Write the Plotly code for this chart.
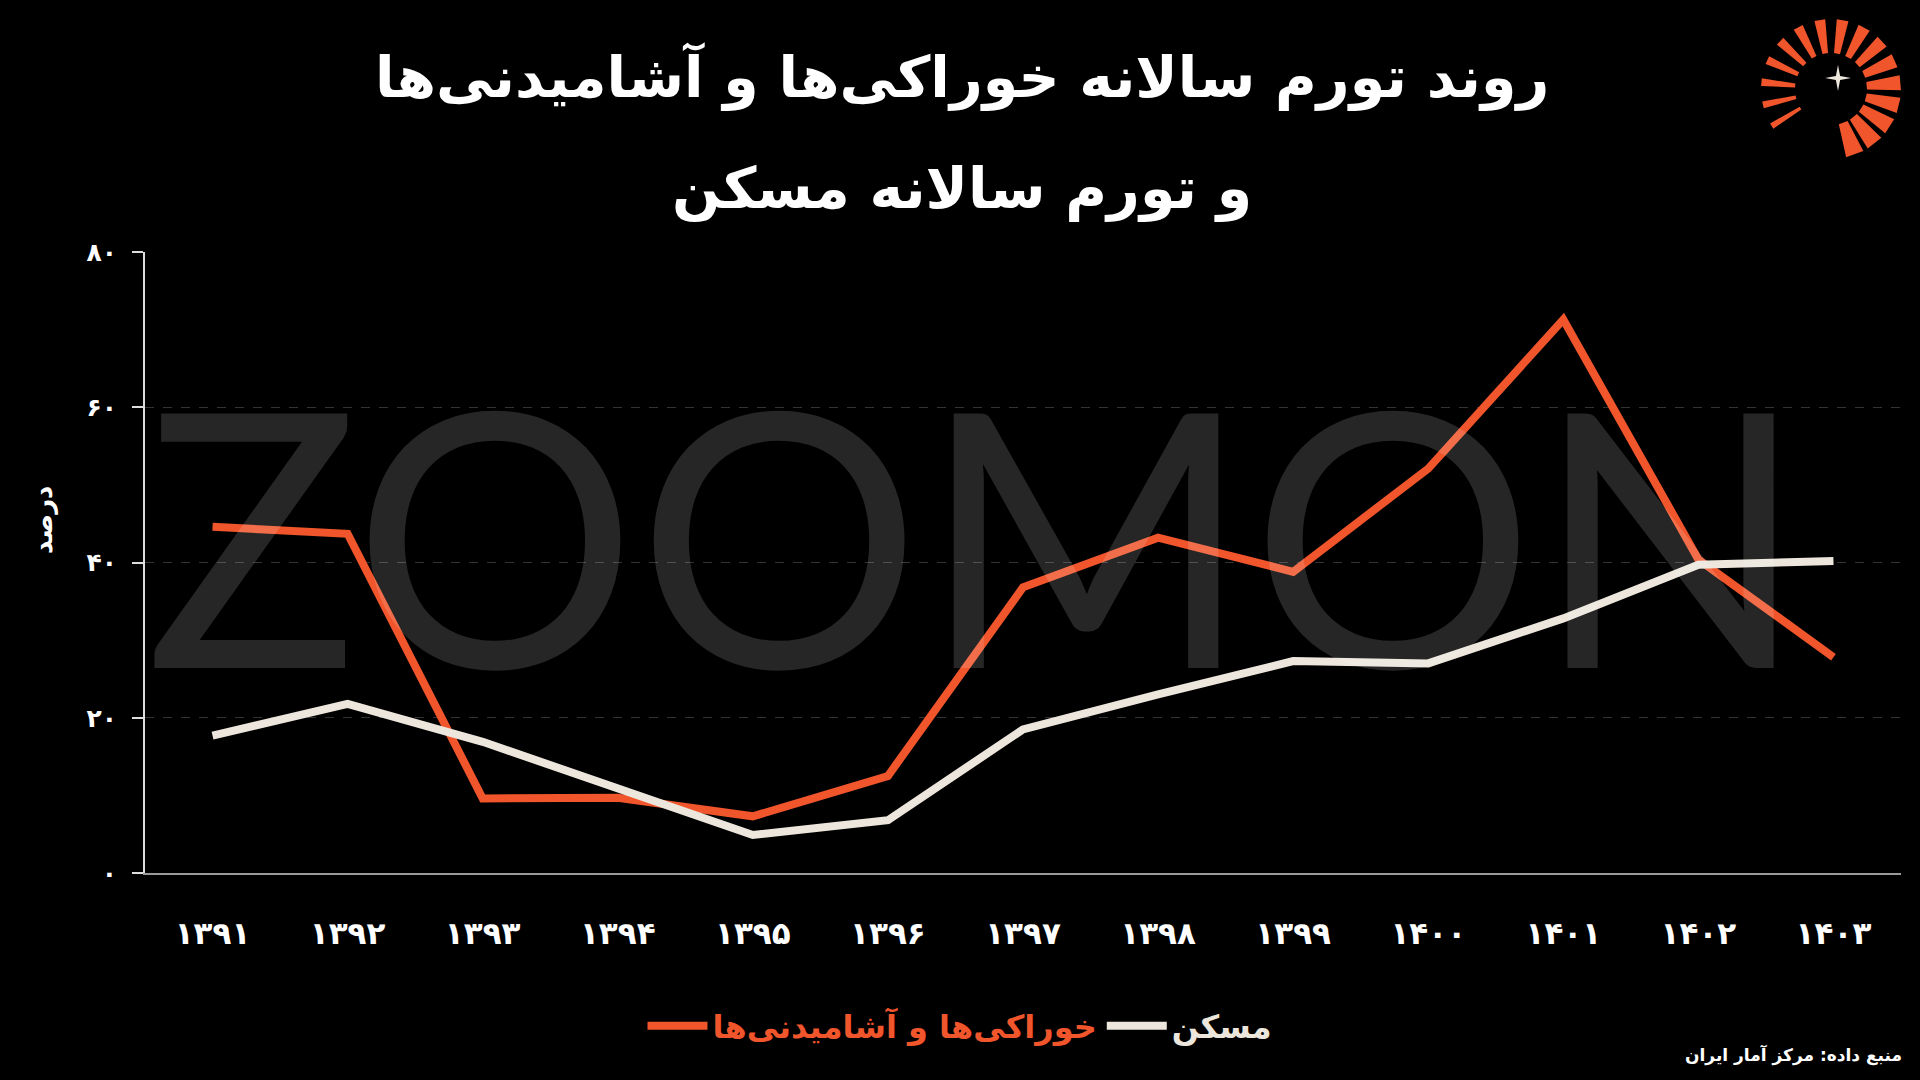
import numpy as np
import plotly.graph_objects as go

# سال‌ها و نرخ تورم سالانه (درصد)
years = ["۱۳۹۱", "۱۳۹۲", "۱۳۹۳", "۱۳۹۴", "۱۳۹۵", "۱۳۹۶", "۱۳۹۷",
         "۱۳۹۸", "۱۳۹۹", "۱۴۰۰", "۱۴۰۱", "۱۴۰۲", "۱۴۰۳"]
food = [44.6, 43.7, 9.6, 9.7, 7.3, 12.5, 36.8, 43.2, 38.8, 52.1, 71.3, 40.4, 27.8]
housing = [17.7, 21.8, 16.9, 11.0, 4.9, 6.8, 18.5, 23.0, 27.3, 27.0, 32.8, 39.7, 40.2]

y_ticks = [0, 20, 40, 60, 80]
y_tick_text = ["۰", "۲۰", "۴۰", "۶۰", "۸۰"]

ORANGE = "#F0552B"
CREAM = "#ECE6DC"
FONT = "DejaVu Sans"

W, H = 1920, 1080
L, R, T, B = 145, 19, 252, 207
PW, PH = W - L - R, H - T - B


def px(x, y):
    # pixel on the page -> paper coords
    return (x - L) / PW, (H - B - y) / PH


fig = go.Figure()

fig.add_trace(go.Scatter(
    x=years, y=food, mode="lines",
    line=dict(color=ORANGE, width=8),
    name="<span style='color:%s'>خوراکی\u200cها و آشامیدنی\u200cها</span>" % ORANGE))
fig.add_trace(go.Scatter(
    x=years, y=housing, mode="lines",
    line=dict(color=CREAM, width=8),
    name="<span style='color:%s'>مسکن</span>" % CREAM))

# logo: radial bars + star
shapes = []
cx, cy = 1831, 89
angles = np.linspace(212, -70, 16)
widths = np.linspace(5, 15, 16)
for a, w in zip(angles, widths):
    a0, a1 = np.radians(a - w / 2), np.radians(a + w / 2)
    r0, r1 = 36, 70
    pts = [(cx + r0 * np.cos(a0), cy - r0 * np.sin(a0)),
           (cx + r1 * np.cos(a0), cy - r1 * np.sin(a0)),
           (cx + r1 * np.cos(a1), cy - r1 * np.sin(a1)),
           (cx + r0 * np.cos(a1), cy - r0 * np.sin(a1))]
    pp = [px(*p) for p in pts]
    path = "M " + " L ".join("%f,%f" % p for p in pp) + " Z"
    shapes.append(dict(type="path", xref="paper", yref="paper", path=path,
                       fillcolor=ORANGE, line=dict(width=0), layer="above"))

sx, sy = 1838, 78
star = []
for k in range(8):
    ang = np.radians(90 - k * 45)
    rr = 13 if k % 2 == 0 else 3
    star.append(px(sx + rr * np.cos(ang), sy - rr * np.sin(ang)))
shapes.append(dict(type="path", xref="paper", yref="paper",
                   path="M " + " L ".join("%f,%f" % p for p in star) + " Z",
                   fillcolor=CREAM, line=dict(width=0), layer="above"))

annotations = []
tx, ty1 = px(962, 76)
_, ty2 = px(962, 188)
for txt, ty in [("روند تورم سالانه خوراکی\u200cها و آشامیدنی\u200cها", ty1),
                ("و تورم سالانه مسکن", ty2)]:
    annotations.append(dict(text="<b>%s</b>" % txt, x=tx, y=ty,
                            xref="paper", yref="paper", xanchor="center",
                            yanchor="middle", showarrow=False,
                            font=dict(family=FONT, size=57, color="white")))

# watermark
wx, wy = px(975, 531)
annotations.append(dict(text="ZOOMON", x=wx, y=wy, xref="paper", yref="paper",
                        xanchor="center", yanchor="middle", showarrow=False,
                        font=dict(family="Lato", size=355, weight=400,
                                  color="rgba(255,255,255,0.15)")))

# y-axis title
yx, yy = px(43, 520)
annotations.append(dict(text="<b>درصد</b>", x=yx, y=yy, xref="paper", yref="paper",
                        xanchor="center", yanchor="middle",
                        showarrow=False, textangle=-90,
                        font=dict(family=FONT, size=26, color="white")))

# source
sx_, sy_ = px(1904, 1055)
annotations.append(dict(text="<b>منبع داده: مرکز آمار ایران</b>", x=sx_, y=sy_,
                        xref="paper", yref="paper", xanchor="right", yanchor="middle",
                        showarrow=False,
                        font=dict(family=FONT, size=17, color="white")))

lx, ly = px(960, 1026)

fig.update_layout(
    width=W, height=H,
    margin=dict(l=L, r=R, t=T, b=B),
    paper_bgcolor="black", plot_bgcolor="black",
    font=dict(family=FONT, color="white"),
    showlegend=True,
    legend=dict(orientation="h", x=lx, y=ly, xanchor="center", yanchor="middle",
                font=dict(family=FONT, size=32, weight="bold"),
                bgcolor="rgba(0,0,0,0)", itemwidth=60),
    shapes=shapes,
    annotations=annotations,
)

fig.update_xaxes(type="category", range=[-0.5, 12.5],
                 showgrid=False, showline=True, linecolor="#9a9a9a", linewidth=2,
                 ticks="", ticklabelstandoff=32,
                 tickfont=dict(family=FONT, size=31, color="white", weight="bold"),
                 zeroline=False, fixedrange=True)
fig.update_yaxes(range=[0, 80], tickvals=y_ticks, ticktext=y_tick_text,
                 showgrid=True, gridcolor="rgba(255,255,255,0.2)", griddash="dash",
                 gridwidth=1, showline=True, linecolor="#dddddd", linewidth=2,
                 ticks="outside", ticklen=11, tickcolor="#dddddd", tickwidth=2,
                 ticklabelstandoff=10,
                 tickfont=dict(family=FONT, size=25, color="white", weight="bold"),
                 zeroline=False, fixedrange=True)

fig.write_html("out.html", config={"displayModeBar": False},
               post_script="document.body.style.margin='0';")
